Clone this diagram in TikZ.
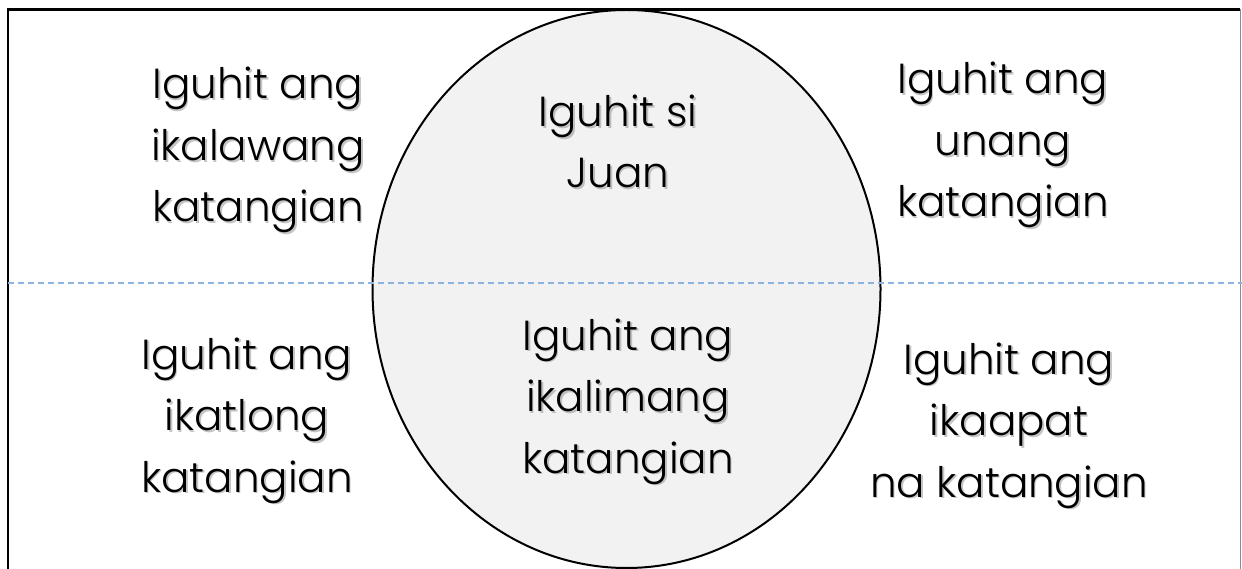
\documentclass[tikz,border=0pt]{standalone}
\usepackage{fontspec}
\IfFontExistsTF{Poppins Light}{\newfontfamily\poppinsfont{Poppins Light}}{\newfontfamily\poppinsfont{Poppins}}
\definecolor{ellfill}{HTML}{F2F2F2}
\definecolor{dashblue}{HTML}{8DB3E2}
\tikzset{
  blocktext/.style={font=\poppinsfont\fontsize{42}{61.5}\selectfont, align=center, inner sep=0pt, anchor=base},
  blockshadow/.style={blocktext, text=black!45, opacity=0.5},
  frameline/.style={line width=2.2pt, black},
}
\newcommand\mkblock[4]{%
  \node[blockshadow] (#1s) at ([shift={(1.6,1.6)}]#2,#3) {#4};
  \node[blocktext] (#1) at (#2,#3) {#4};
}
\begin{document}
\begin{tikzpicture}[x=1pt,y=-1pt]
\useasboundingbox (0,0) rectangle (1242,569);
\fill[white] (0,0) rectangle (1242,569);
% ellipse
\begin{scope}
\clip (0,0) rectangle (1242,569);
\draw[fill=ellfill, line width=2pt] (626.5,289) ellipse [x radius=254, y radius=279];
\end{scope}
% frame
\draw[frameline] (8,569) -- (8,9.5) -- (1240,9.5);
\draw[black!45, line width=1pt] (1240.5,9.5) -- (1240.5,569);
% dashed divider
\coordinate (dl) at (8,283);
\coordinate (dr) at (1242,283);
\draw[dashblue, line width=1.6pt, dash pattern=on 6pt off 4pt] (dl) -- (dr);
% text blocks (anchor = baseline of the last line)
\mkblock{tl}{258}{222}{Iguhit ang\\ikalawang\\katangian}
\mkblock{tc}{618}{188}{Iguhit si\\Juan}
\mkblock{tr}{1003}{217}{Iguhit ang\\unang\\katangian}
\mkblock{bl}{247}{492}{Iguhit ang\\ikatlong\\katangian}
\mkblock{bc}{628}{473}{Iguhit ang\\ikalimang\\katangian}
\mkblock{br}{1009}{497}{Iguhit ang\\ikaapat\\na katangian}
\end{tikzpicture}
\end{document}
